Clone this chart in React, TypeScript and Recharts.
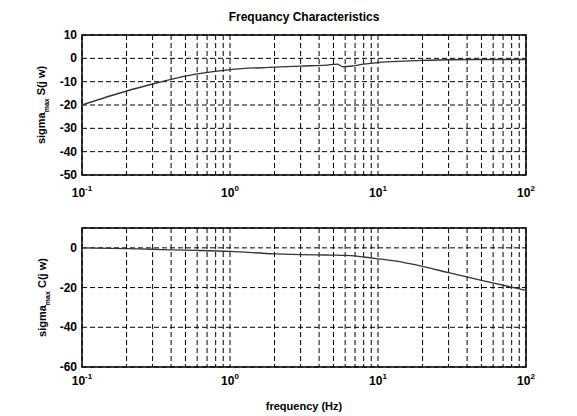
import { LineChart, Line, XAxis, YAxis, CartesianGrid, ReferenceArea } from "recharts";

const frequencies = [0.1, 0.2, 0.3, 0.4, 0.6, 1, 2, 3, 4.5, 5.3, 5.8, 6.5, 8, 10, 15, 20, 30, 50, 100];
const sMagnitude = [-20, -14, -11, -9, -6.7, -4.8, -3.8, -3.3, -2.9, -2.5, -3.6, -3.4, -2.5, -1.8, -1.2, -0.9, -0.6, -0.5, -0.5];
const cMagnitude = [0, -0.4, -0.7, -1, -1.3, -1.8, -3, -3.4, -3.6, -3.7, -3.8, -3.9, -4.6, -5.5, -7.4, -9.3, -12.5, -16.4, -21.4];

const freqTicks = [
  0.1, 0.2, 0.3, 0.4, 0.5, 0.6, 0.7, 0.8, 0.9,
  1, 2, 3, 4, 5, 6, 7, 8, 9,
  10, 20, 30, 40, 50, 60, 70, 80, 90, 100,
];
const sTicks = [10, 0, -10, -20, -30, -40, -50];
const cTicks = [0, -20, -40, -60];

const data = frequencies.map((f, i) => ({ f, s: sMagnitude[i], c: cMagnitude[i] }));

const FONT = "'Liberation Sans', Arial, sans-serif";

const makeLogTick = (offset: number) => (props: any) => {
  const { x, y, payload } = props;
  const v = payload.value;
  const e = Math.round(Math.log10(v));
  if (Math.abs(v - Math.pow(10, e)) > 1e-9) return <g />;
  return (
    <text x={x} y={y + offset} textAnchor="middle" fontFamily={FONT} fontSize={12} fontWeight="bold" fill="#000">
      10<tspan dy={-6} fontSize={8}>{e}</tspan>
    </text>
  );
};

const YTick = (props: any) => {
  const { x, y, payload } = props;
  return (
    <text x={x - 3} y={y + 4} textAnchor="end" fontFamily={FONT} fontSize={12} fontWeight="bold" fill="#000">
      {payload.value}
    </text>
  );
};

const yLabel = (name: string, cx: number) => (props: any) => {
  const vb = props.viewBox;
  const cy = vb.y + vb.height / 2;
  return (
    <text
      x={cx}
      y={cy}
      transform={`rotate(-90 ${cx} ${cy})`}
      textAnchor="middle"
      fontFamily={FONT}
      fontSize={11}
      fontWeight="bold"
      fill="#000"
    >
      sigma<tspan dy={4} fontSize={7}>max</tspan>
      <tspan dy={-4}> {name}(j w)</tspan>
    </text>
  );
};

function Panel({
  dataKey,
  domain,
  ticks,
  height,
  top,
  bottom,
  tickOffset,
  name,
  labelX,
}: {
  dataKey: string;
  domain: [number, number];
  ticks: number[];
  height: number;
  top: number;
  bottom: number;
  tickOffset: number;
  name: string;
  labelX: number;
}) {
  return (
    <LineChart width={577} height={height} data={data} margin={{ top, right: 51, left: 0, bottom: 0 }}>
      <CartesianGrid stroke="#000" strokeDasharray="5 3" strokeWidth={1} />
      <XAxis
        dataKey="f"
        type="number"
        scale="log"
        domain={[0.1, 100]}
        ticks={freqTicks}
        allowDataOverflow
        axisLine={false}
        tickLine={false}
        tickSize={0}
        height={bottom}
        interval={0}
        tick={makeLogTick(tickOffset)}
      />
      <YAxis
        type="number"
        domain={domain}
        ticks={ticks}
        width={82}
        axisLine={false}
        tickLine={false}
        tickSize={0}
        interval={0}
        tick={<YTick />}
        label={{ content: yLabel(name, labelX) }}
      />
      <ReferenceArea x1={0.1} x2={100} y1={domain[0]} y2={domain[1]} fill="none" stroke="#000" strokeWidth={1.5} ifOverflow="visible" />
      <Line dataKey={dataKey} type="monotone" stroke="#333" strokeWidth={1.3} dot={false} isAnimationActive={false} />
    </LineChart>
  );
}

export default function App() {
  return (
    <div style={{ position: "absolute", left: 0, top: 0, width: 577, height: 416, background: "#fff" }}>
      <div
        style={{
          position: "absolute",
          left: 0,
          width: 608,
          top: 10,
          textAlign: "center",
          fontFamily: FONT,
          fontSize: 12,
          fontWeight: "bold",
        }}
      >
        Frequancy Characteristics
      </div>
      <Panel dataKey="s" domain={[-50, 10]} ticks={sTicks} height={208} top={35} bottom={33} tickOffset={20} name="S" labelX={45} />
      <Panel dataKey="c" domain={[-60, 10]} ticks={cTicks} height={208} top={20} bottom={49} tickOffset={16} name="C" labelX={46} />
      <div
        style={{
          position: "absolute",
          left: 0,
          width: 608,
          top: 400,
          textAlign: "center",
          fontFamily: FONT,
          fontSize: 11,
          fontWeight: "bold",
        }}
      >
        frequency (Hz)
      </div>
    </div>
  );
}
